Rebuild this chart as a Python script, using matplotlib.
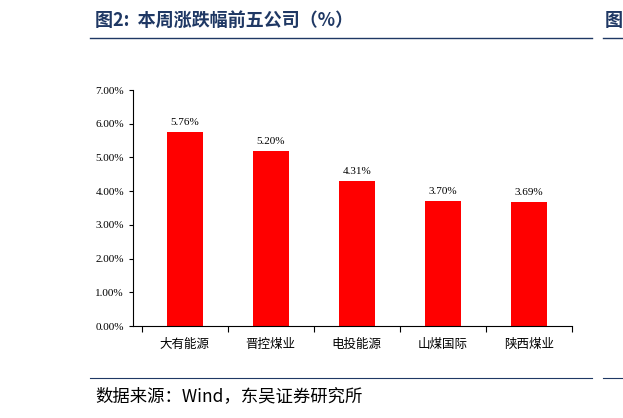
import matplotlib
matplotlib.use("Agg")
import matplotlib.pyplot as plt

categories = ["大有能源", "晋控煤业", "电投能源", "山煤国际", "陕西煤业"]
values = [5.76, 5.20, 4.31, 3.70, 3.69]
yticks = [0, 1, 2, 3, 4, 5, 6, 7]

fig = plt.figure(figsize=(6.23, 4.18), dpi=100)
W, H = 623, 418
ax = fig.add_axes([133/W, 1-326/H, (572-133)/W, (326-90)/H])
x = range(len(categories))
ax.bar(x, values, width=0.42, color="#FF0000")
for i, v in zip(x, values):
    ax.text(i, v + 0.15, f"{v:.2f}%", ha="center", va="bottom", fontsize=8, family="Liberation Serif")
ax.set_xlim(-0.6, 4.5)
ax.set_ylim(0, 7)
ax.set_yticks(yticks)
ax.set_yticklabels([f"{t:.2f}%" for t in yticks], family="Liberation Serif", fontsize=8)
ax.set_xticks([i + 0.5 for i in range(-1, 5)], minor=False)
ax.set_xticklabels([])
ax.tick_params(axis="x", direction="out", length=4)
ax.tick_params(axis="y", direction="out", length=3)
for i, c in enumerate(categories):
    ax.text(i, -0.35, c, ha="center", va="top", fontsize=9, family=["Noto Sans CJK SC"])
for s in ["top", "right"]:
    ax.spines[s].set_visible(False)

fig.text(95/W, 1-20/H, "图2:  本周涨跌幅前五公司（%）", fontsize=13, fontweight="bold",
         color="#1F3864", va="center", family=["Noto Sans CJK SC"])
fig.text(605/W, 1-20/H, "图", fontsize=13, fontweight="bold", color="#1F3864", va="center", family=["Noto Sans CJK SC"])
fig.add_artist(plt.Line2D([90/W, 592/W], [1-38/H]*2, color="#1F3864", lw=1))
fig.add_artist(plt.Line2D([603/W, 1], [1-38/H]*2, color="#1F3864", lw=1))
fig.add_artist(plt.Line2D([90/W, 592/W], [1-378/H]*2, color="#1F3864", lw=0.8))
fig.add_artist(plt.Line2D([603/W, 1], [1-378/H]*2, color="#1F3864", lw=0.8))
fig.text(95/W, 1-396/H, "数据来源：Wind，东吴证券研究所", fontsize=12.5, va="center",
         family=["Noto Sans CJK SC", "DejaVu Sans"])
fig.savefig("out.png", dpi=100)
